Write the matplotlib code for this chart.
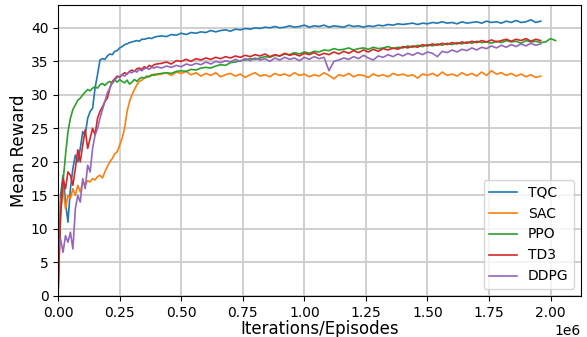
import numpy as np
import matplotlib
matplotlib.use("Agg")
import matplotlib.pyplot as plt

# x grid (in units of 1e6 steps): dense at the start, coarser later
x_early = np.round(np.arange(0.0, 0.405, 0.01), 2)
x_late = np.round(np.arange(0.42, 1.965, 0.02), 2)
x_ppo_tail = [1.98, 2.00, 2.02]

tqc_early = [0.5, 15, 18, 14, 11, 16, 19, 21, 20, 22,
             24.5, 24, 26.5, 27.5, 28, 31, 33, 35.2, 35.4, 35.3,
             35.8, 36.1, 36.0, 36.5, 36.6, 37.0, 37.2, 37.5, 37.6, 37.8,
             37.9, 38.0, 38.1, 38.0, 38.3, 38.3, 38.4, 38.5, 38.4, 38.6,
             38.7]
tqc_late = [38.8, 38.7, 39.0, 38.9, 39.2, 39.0, 39.3, 39.2, 39.4, 39.3,
            39.6, 39.4, 39.6, 39.7, 39.5, 39.8, 39.7, 39.9, 39.8, 40.0,
            39.9, 40.1, 40.0, 40.2, 40.0, 40.1, 40.3, 40.1, 40.2, 40.4,
            40.1, 40.3, 40.2, 40.4, 40.1, 40.3, 40.2, 40.1, 40.4, 40.2,
            40.3, 40.1, 40.3, 40.2, 40.4, 40.3, 40.5, 40.4, 40.6, 40.5,
            40.6, 40.7, 40.5, 40.7, 40.6, 40.8, 40.7, 40.9, 40.7, 40.8,
            40.6, 40.9, 40.7, 40.8, 40.9, 40.7, 41.0, 40.8, 40.9, 40.7,
            41.0, 40.8, 41.1, 40.8, 40.9, 41.2, 40.8, 41.0]

sac_early = [0.5, 14, 16, 13, 15, 14.5, 16, 15, 16.5, 15.5,
             17, 16.5, 17.2, 17, 17.5, 17.3, 17.8, 18, 17.6, 18.5,
             19.3, 20, 20.5, 21.2, 21.5, 22.5, 23.5, 25, 27.5, 29,
             30, 30.8, 31.5, 32, 32.2, 32.5, 32.6, 32.8, 32.9, 33.1,
             33.0]
sac_late = [33.1, 33.3, 32.9, 33.4, 33.2, 33.5, 33.0, 33.3, 32.8, 33.2,
            32.9, 33.3, 32.7, 33.0, 33.2, 32.8, 33.1, 32.6, 33.0, 33.3,
            32.8, 33.0, 32.7, 33.2, 32.9, 33.1, 32.8, 33.3, 32.9, 33.1,
            32.7, 33.0, 32.8, 33.3, 32.9, 32.4, 33.0, 32.8, 33.2, 32.7,
            33.0, 32.9, 32.6, 33.1, 32.8, 33.0, 32.7, 33.2, 32.9, 33.1,
            32.8, 33.0, 32.5, 33.1, 32.9, 33.2, 32.8, 33.4, 32.9, 33.1,
            32.8, 33.3, 32.9, 33.2, 32.8, 33.4, 32.9, 33.6, 33.1, 33.3,
            32.9, 33.2, 32.8, 33.1, 32.7, 33.0, 32.6, 32.8]

ppo_early = [4, 12, 17, 21, 24.5, 26.5, 27.8, 28.5, 29.2, 29.5,
             30.0, 30.4, 30.8, 30.6, 31.0, 31.2, 31.0, 31.5, 31.7, 31.4,
             31.8, 32.0, 31.7, 32.2, 31.9, 32.3, 32.0, 31.8, 32.2, 31.6,
             31.9, 32.3, 32.0, 32.4, 32.6, 32.5, 32.8, 32.7, 33.0, 32.9,
             33.1]
ppo_late = [33.2, 33.3, 33.2, 33.5, 33.6, 33.5, 33.8, 33.7, 34.0, 34.1,
            34.0, 34.3, 34.5, 34.4, 34.8, 34.9, 35.1, 35.2, 35.4, 35.3,
            35.5, 35.7, 35.6, 35.9, 35.8, 36.1, 36.0, 36.3, 36.1, 36.4,
            36.2, 36.5, 36.4, 36.7, 36.6, 36.9, 36.7, 36.8, 37.0, 36.7,
            36.9, 37.0, 36.8, 37.1, 36.9, 37.0, 37.2, 36.9, 37.1, 37.0,
            37.3, 37.1, 37.4, 37.2, 37.5, 37.3, 37.6, 37.4, 37.7, 37.5,
            37.8, 37.6, 37.9, 37.7, 38.0, 37.8, 37.9, 37.7, 38.0, 37.8,
            38.1, 37.9, 38.0, 37.7, 38.1, 37.9, 38.0, 37.8]
ppo_tail = [37.9, 38.4, 38.1]

td3_early = [0.5, 12, 17.5, 16, 18.5, 18, 16.5, 19, 21.8, 20,
             22.5, 24.8, 22, 23.5, 25, 24, 26.5, 27.5, 28.2, 29,
             29.5, 31, 32, 32.4, 32.8, 32.6, 33.0, 33.3, 33.1, 33.5,
             33.7, 33.5, 33.9, 34.0, 33.8, 34.2, 34.0, 34.4, 34.2, 34.5,
             34.6]
td3_late = [34.7, 34.9, 34.6, 35.1, 35.0, 35.3, 35.0, 35.4, 35.2, 35.5,
            35.3, 35.6, 35.4, 35.7, 35.5, 35.8, 35.6, 35.9, 35.7, 36.0,
            35.8, 36.1, 35.7, 36.0, 35.8, 36.2, 35.9, 36.1, 35.8, 36.2,
            36.0, 36.3, 35.9, 36.2, 36.0, 36.4, 36.1, 36.5, 36.2, 36.6,
            36.3, 36.7, 36.4, 36.8, 36.5, 36.9, 36.7, 37.0, 36.8, 37.2,
            37.0, 37.3, 37.1, 37.5, 37.3, 37.6, 37.4, 37.7, 37.5, 37.8,
            37.6, 37.9, 37.7, 38.0, 37.8, 38.1, 37.9, 38.2, 37.9, 38.1,
            38.3, 38.0, 38.3, 38.1, 38.4, 38.0, 38.3, 38.1]

ddpg_early = [7, 8.5, 6.5, 9, 8, 9.5, 7, 13, 15, 14,
              17.5, 16, 19.5, 18.5, 22, 24, 25, 26.5, 27.8, 29,
              30.3, 31, 31.8, 32.2, 32.6, 32.8, 33.0, 32.8, 33.2, 33.4,
              33.3, 33.6, 33.4, 33.8, 33.6, 33.9, 34.0, 33.8, 34.1, 34.0,
              34.2]
ddpg_late = [34.0, 34.3, 34.1, 34.4, 34.2, 34.6, 34.4, 34.7, 34.5, 34.9,
             34.6, 35.0, 34.8, 35.1, 34.9, 35.3, 35.0, 35.4, 35.1, 35.5,
             35.2, 35.4, 35.0, 35.5, 35.2, 35.6, 35.3, 35.5, 35.1, 35.6,
             35.3, 35.7, 35.4, 35.6, 33.6, 35.0, 35.2, 35.5, 35.3, 35.7,
             35.4, 35.9, 35.5, 35.2, 35.8, 35.6, 36.0, 35.7, 36.1, 35.8,
             36.2, 35.9, 36.3, 36.0, 36.4, 36.2, 35.7, 36.5, 36.3, 36.7,
             36.4, 36.8, 36.6, 37.0, 36.7, 37.1, 36.9, 37.3, 37.0, 37.4,
             37.1, 37.5, 37.2, 37.6, 37.3, 37.7, 37.4, 37.6]

labels = ["TQC", "SAC", "PPO", "TD3", "DDPG"]

x_main = np.concatenate([x_early, x_late]) * 1e6
x_ppo = np.concatenate([x_early, x_late, x_ppo_tail]) * 1e6

series = [
    (x_main, tqc_early + tqc_late),
    (x_main, sac_early + sac_late),
    (x_ppo, ppo_early + ppo_late + ppo_tail),
    (x_main, td3_early + td3_late),
    (x_main, ddpg_early + ddpg_late),
]

fig = plt.figure(figsize=(5.87, 3.37), dpi=100)
ax = fig.add_axes([0.099, 0.122, 0.891, 0.863])

for (xs, ys), lab in zip(series, labels):
    ax.plot(xs, ys, linewidth=1.2, label=lab)

ax.set_xlim(0, 2.124e6)
ax.set_ylim(0, 43.4)
ax.grid(True, color="#cccccc", linewidth=1.3)
ax.set_axisbelow(True)
ax.set_xlabel("Iterations/Episodes", fontsize=12, labelpad=0)
ax.set_ylabel("Mean Reward", fontsize=12, labelpad=2)
ax.legend(loc="lower right", fontsize=10)

fig.savefig("out.png", dpi=100)
